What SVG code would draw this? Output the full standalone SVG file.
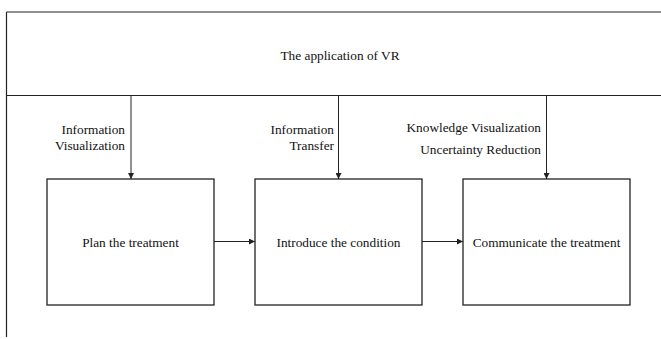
<svg xmlns="http://www.w3.org/2000/svg" width="661" height="339" viewBox="0 0 661 339">
  <style>
    .frame { fill: none; stroke: #222; stroke-width: 1.2; }
    .box { fill: #fff; stroke: #222; stroke-width: 1.3; }
    .conn { fill: none; stroke: #222; stroke-width: 1; }
    text { font-family: "Liberation Serif", "Times New Roman", serif; font-size: 13.3px; fill: #111; }
    .c { text-anchor: middle; }
    .r { text-anchor: end; }
  </style>
  <defs>
    <marker id="arrow" viewBox="0 0 8 8" refX="8" refY="4" markerWidth="6" markerHeight="6" orient="auto" markerUnits="userSpaceOnUse">
      <path d="M0,0 L8,4 L0,8 Z" fill="#222"/>
    </marker>
  </defs>

  <!-- outer frame and header band -->
  <g id="header">
    <line class="frame" x1="6.5" y1="12" x2="661" y2="12" stroke-width="1.6"/>
    <line class="frame" x1="6.5" y1="12" x2="6.5" y2="337"/>
    <line class="frame" x1="6.5" y1="95.5" x2="661" y2="95.5"/>
    <text class="c" x="340" y="60">The application of VR</text>
  </g>

  <g id="plan">
    <rect class="box" x="47" y="179" width="167" height="126"/>
    <text class="c" x="130.5" y="247">Plan the treatment</text>
  </g>

  <g id="introduce">
    <rect class="box" x="255" y="179" width="167" height="126"/>
    <text class="c" x="338.5" y="247">Introduce the condition</text>
  </g>

  <g id="communicate">
    <rect class="box" x="463" y="179" width="167" height="126"/>
    <text class="c" x="546.5" y="247">Communicate the treatment</text>
  </g>

  <g id="connectors">
    <line class="conn" x1="131" y1="95.5" x2="131" y2="179" marker-end="url(#arrow)"/>
    <line class="conn" x1="338.5" y1="95.5" x2="338.5" y2="179" marker-end="url(#arrow)"/>
    <line class="conn" x1="546.5" y1="95.5" x2="546.5" y2="179" marker-end="url(#arrow)"/>
    <line class="conn" x1="214" y1="241.5" x2="255" y2="241.5" marker-end="url(#arrow)"/>
    <line class="conn" x1="422" y1="241.5" x2="463" y2="241.5" marker-end="url(#arrow)"/>
  </g>

  <g id="labels">
    <text class="r" x="125" y="134">Information</text>
    <text class="r" x="125" y="150">Visualization</text>
    <text class="r" x="334" y="134">Information</text>
    <text class="r" x="334" y="150">Transfer</text>
    <text class="r" x="541" y="132">Knowledge Visualization</text>
    <text class="r" x="541" y="154">Uncertainty Reduction</text>
  </g>
</svg>
